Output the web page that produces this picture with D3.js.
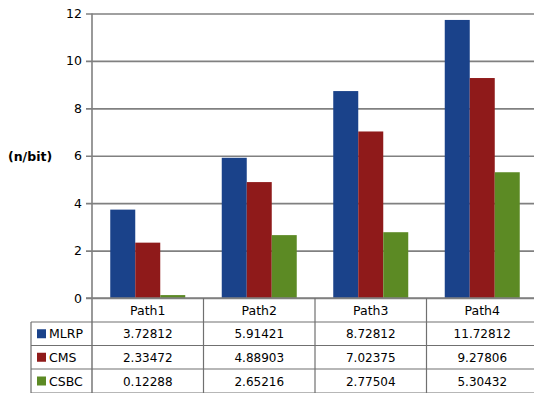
<!DOCTYPE html>
<html><head><meta charset="utf-8">
<script src="https://cdn.jsdelivr.net/npm/d3@7"></script>
<style>body{margin:0;background:#fff}svg{display:block;font-family:"DejaVu Sans",Verdana,sans-serif}</style>
</head><body><svg id="c" width="534" height="393"></svg>
<script>
const categories = ["Path1","Path2","Path3","Path4"];
const seriesNames = ["MLRP","CMS","CSBC"];
const MLRP = [3.72812, 5.91421, 8.72812, 11.72812];
const CMS  = [2.33472, 4.88903, 7.02375, 9.27806];
const CSBC = [0.12288, 2.65216, 2.77504, 5.30432];
const yTicks = [0,2,4,6,8,10,12];
const yLabel = "(n/bit)";
const colors = ["#1a428a","#8f1a1a","#5c8a24"];
const series = [MLRP, CMS, CSBC];

(function(){
const svg = d3.select("#c");
const pLeft = 92, pRight = 538, pTop = 13.5, pBottom = 298;
const x = d3.scaleBand().domain(categories).range([pLeft, pRight]).paddingInner(0).paddingOuter(0);
const y = d3.scaleLinear().domain([0,12]).range([pBottom, pTop]);
const inner = d3.scaleBand().domain(seriesNames).range([0, x.bandwidth()]).paddingInner(0).paddingOuter(0.73);

const yAxis = d3.axisLeft(y).tickValues(yTicks).tickSize(-(pRight-pLeft)).tickSizeOuter(0).tickPadding(10);
const gy = svg.append("g").attr("transform", `translate(${pLeft},0)`).call(yAxis);
gy.select(".domain").remove();
gy.selectAll(".tick line").attr("x1", -6).attr("stroke", "#808080").attr("stroke-width", 1.6);
gy.selectAll(".tick text").attr("font-size", 12.5).attr("fill", "#000").attr("font-family", "DejaVu Sans, sans-serif");

categories.forEach((c, i) => {
  series.forEach((s, j) => {
    svg.append("rect")
      .attr("x", x(c) + inner(seriesNames[j]))
      .attr("y", y(s[i]))
      .attr("width", inner.bandwidth())
      .attr("height", y(0) - y(s[i]))
      .attr("fill", colors[j]);
  });
});

svg.append("line").attr("x1", pLeft).attr("x2", pLeft).attr("y1", pTop).attr("y2", 393)
  .attr("stroke", "#808080").attr("stroke-width", 1.6);
svg.append("line").attr("x1", pLeft-6).attr("x2", pRight).attr("y1", pBottom).attr("y2", pBottom)
  .attr("stroke", "#808080").attr("stroke-width", 1.6);

svg.append("text").attr("x", 8).attr("y", 161).attr("font-size", 12.5).attr("font-weight", "bold").text(yLabel);

const rowH = [298, 322, 345.5, 369, 393];
const tcol = "#707070";
const tableLeft = 31;
categories.forEach((c, i) => {
  const xr = x(c) + x.bandwidth();
  svg.append("line").attr("x1", xr).attr("x2", xr).attr("y1", rowH[0]).attr("y2", 393).attr("stroke", tcol).attr("stroke-width", 1.2);
  svg.append("text").attr("x", x(c) + x.bandwidth()/2).attr("y", (rowH[0]+rowH[1])/2 + 4.5)
    .attr("text-anchor", "middle").attr("font-size", 12.5).text(c);
});
for (let r = 1; r < rowH.length; r++) {
  svg.append("line").attr("x1", tableLeft).attr("x2", pRight).attr("y1", rowH[r]).attr("y2", rowH[r]).attr("stroke", tcol).attr("stroke-width", 1.2);
}
svg.append("line").attr("x1", tableLeft).attr("x2", tableLeft).attr("y1", rowH[1]).attr("y2", 393).attr("stroke", tcol).attr("stroke-width", 1.2);

seriesNames.forEach((n, j) => {
  const cy = (rowH[j+1] + rowH[j+2]) / 2;
  svg.append("rect").attr("x", 37).attr("y", cy - 4.5).attr("width", 9).attr("height", 9).attr("fill", colors[j]);
  svg.append("text").attr("x", 49).attr("y", cy + 4.5).attr("font-size", 12.5).text(n);
  categories.forEach((c, i) => {
    svg.append("text").attr("x", x(c) + x.bandwidth()/2).attr("y", cy + 4.5)
      .attr("text-anchor", "middle").attr("font-size", 12).text(series[j][i].toFixed(5));
  });
});
})();
</script></body></html>
